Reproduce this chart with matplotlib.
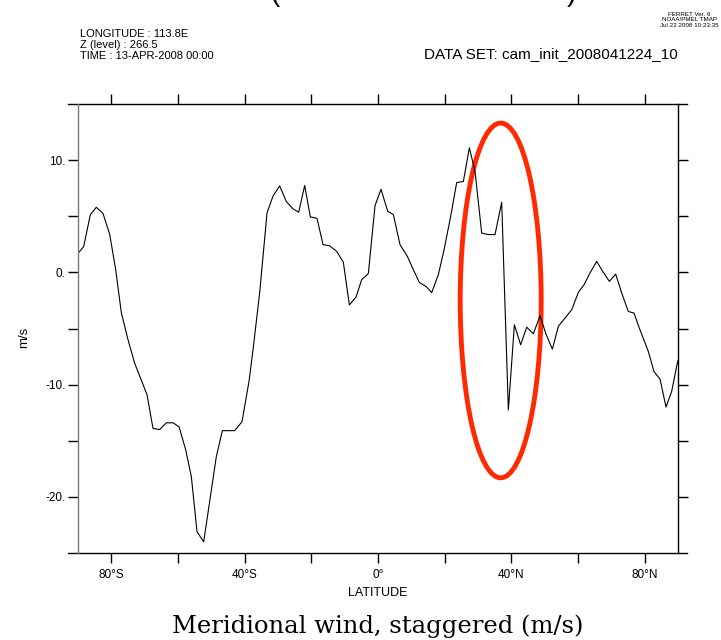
import numpy as np
import matplotlib.pyplot as plt
from matplotlib.patches import Ellipse

# Meridional wind along 113.8E, level 266.5
lat = [-90.0, -88.3, -86.3, -84.5, -82.5, -80.5, -78.7, -77.0, -75.0, -73.0,
       -71.0, -69.3, -67.5, -65.5, -63.5, -61.5, -59.7, -57.7, -56.0, -54.3,
       -52.3, -50.5, -48.5, -46.7, -44.9, -43.0, -40.8, -38.7, -37.5, -35.5,
       -33.3, -31.5, -29.5, -27.5, -25.5, -23.8, -22.0, -20.3, -18.3, -16.5,
       -14.6, -12.4, -10.4, -8.6, -6.6, -4.9, -2.9, -0.9, 0.9, 2.9,
       4.6, 6.6, 8.8, 10.6, 12.4, 14.4, 16.1, 18.1, 19.8, 21.8,
       23.6, 25.6, 27.4, 29.1, 31.1, 33.1, 35.1, 37.1, 39.1, 40.9,
       42.8, 44.6, 46.6, 48.6, 50.4, 52.3, 54.1, 56.1, 58.1, 60.1,
       61.8, 63.6, 65.6, 67.4, 69.4, 71.3, 73.1, 75.1, 76.8, 78.4,
       81.1, 82.8, 84.6, 86.4, 88.1, 89.9]
vwind = [1.7, 2.3, 5.15, 5.8, 5.25, 3.4, 0.25, -3.6, -6.0, -8.1,
         -9.6, -10.9, -13.9, -14.0, -13.4, -13.4, -13.75, -15.8, -18.2, -23.1,
         -24.0, -20.4, -16.4, -14.1, -14.1, -14.1, -13.3, -9.7, -6.9, -1.8,
         5.3, 6.8, 7.7, 6.3, 5.66, 5.36, 7.74, 4.94, 4.82, 2.47,
         2.38, 1.88, 0.9, -2.9, -2.2, -0.65, -0.1, 5.95, 7.4, 5.45,
         5.15, 2.47, 1.43, 0.24, -0.9, -1.25, -1.8, -0.2, 2.0, 5.0,
         8.0, 8.1, 11.1, 9.0, 3.5, 3.37, 3.37, 6.25, -12.26, -4.67,
         -6.45, -4.88, -5.47, -3.87, -5.5, -6.84, -4.8, -4.07, -3.33, -1.78,
         -1.1, -0.05, 0.98, 0.09, -0.8, -0.15, -1.84, -3.48, -3.63, -4.97,
         -7.05, -8.84, -9.5, -12.0, -10.6, -7.9]

xticks_major = [-80, -40, 0, 40, 80]
xtick_labels = ['80°S', '40°S', '0°', '40°N', '80°N']
xticks_minor = [-60, -20, 20, 60]
yticks_major = [-20, -10, 0, 10]
ytick_labels = ['-20.', '-10.', '0.', '10.']
yticks_minor = [-15, -5, 5]

plt.rcParams['font.family'] = ['Liberation Sans', 'DejaVu Sans']

fig = plt.figure(figsize=(7.21, 6.4), dpi=100)
ax = fig.add_axes([0.1082, 0.1359, 0.8322, 0.7016])

ax.plot(lat, vwind, color='black', lw=0.8)
ax.set_xlim(-90, 90)
ax.set_ylim(-25, 15)

ax.set_xticks(xticks_major)
ax.set_xticklabels(xtick_labels)
ax.set_xticks(xticks_minor, minor=True)
ax.set_yticks(yticks_major)
ax.set_yticklabels(ytick_labels)
ax.set_yticks(yticks_minor, minor=True)
for which in ('major', 'minor'):
    ax.tick_params(axis='both', which=which, direction='out', length=7.5,
                   width=1.0, top=True, right=True, labelsize=8.5)
ax.tick_params(axis='x', which='major', pad=4)
ax.tick_params(axis='y', which='major', pad=1.5)

# horizontal frame lines run a little past the side spines
ax.spines['top'].set_visible(False)
ax.spines['bottom'].set_visible(False)
for yy in (0, 1):
    ax.plot([-0.017, 1.015], [yy, yy], transform=ax.transAxes, color='black',
            lw=1.0, clip_on=False)
ax.spines['left'].set_linewidth(1.0)
ax.spines['left'].set_color('#777777')
ax.spines['right'].set_linewidth(1.0)

ax.set_xlabel('LATITUDE', fontsize=9, labelpad=4)
fig.text(0.033, 0.473, 'm/s', rotation=90, ha='center', va='center', fontsize=9.5)

# highlight around the jump near 38N
ax.add_patch(Ellipse((36.8, -2.5), 24.3, 31.6, fill=False,
                     edgecolor='#ff2a00', lw=3.5))

fig.text(0.111, 0.947, 'LONGITUDE : 113.8E', fontsize=8, va='center')
fig.text(0.111, 0.930, 'Z (level) : 266.5', fontsize=8, va='center')
fig.text(0.111, 0.913, 'TIME : 13-APR-2008 00:00', fontsize=8, va='center')
fig.text(0.940, 0.916, 'DATA SET: cam_init_2008041224_10', fontsize=11,
         ha='right', va='center')
fig.text(0.997, 0.969, 'FERRET Ver. 6\nNOAA/PMEL TMAP\nJul 22 2008 10:23:35',
         fontsize=4.5, ha='right', va='center', linespacing=1.1,
         multialignment='center')

# remains of the title clipped at the top edge
fig.text(0.381, 0.999, '(', fontsize=20, ha='center', va='baseline')
fig.text(0.793, 0.999, ')', fontsize=20, ha='center', va='baseline')

fig.text(0.524, 0.022, 'Meridional wind, staggered (m/s)', family='DejaVu Serif',
         fontsize=17.5, ha='center', va='center')

fig.savefig('out.png', dpi=100)
